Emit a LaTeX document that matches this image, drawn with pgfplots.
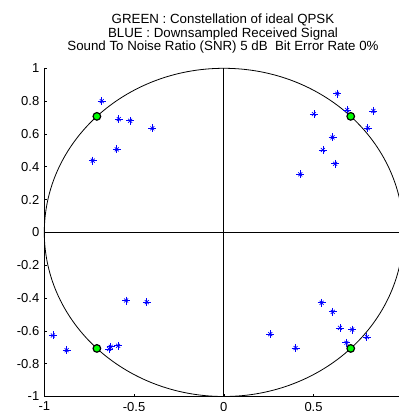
\documentclass[border=0pt]{standalone}
\usepackage{pgfplots}
\pgfplotsset{compat=1.18}
\usepackage{fontspec}
\setmainfont{Liberation Sans}

\begin{document}
\begin{tikzpicture}[x=1pt,y=1pt]
\begin{axis}[
  at={(44.3pt,-396.5pt)}, anchor=south west,
  scale only axis, width=359pt, height=328.2pt,
  xmin=-1, xmax=1, ymin=-1, ymax=1,
  axis x line*=bottom, axis y line*=left,
  axis line style={black, line width=0.8pt},
  tick align=inside, major tick length=3pt,
  tick style={black, line width=0.6pt},
  xtick={-1,-0.5,0,0.5,1}, xticklabels={-1,-0.5,0,0.5,1},
  ytick={-1,-0.8,-0.6,-0.4,-0.2,0,0.2,0.4,0.6,0.8,1},
  yticklabels={-1,-0.8,-0.6,-0.4,-0.2,0,0.2,0.4,0.6,0.8,1},
  ticklabel style={font=\fontsize{13}{15}\selectfont},
  yticklabel style={xshift=-1.5pt},
  xticklabel style={yshift=-2pt},
  clip=false,
]
\draw[black, line width=0.8pt] (axis cs:-1,0) -- (axis cs:1,0);
\draw[black, line width=0.8pt] (axis cs:0,-1) -- (axis cs:0,1);
% received (downsampled) signal
\pgfplotstableread{
x y
-0.68 0.80
-0.585 0.69
-0.522 0.68
-0.398 0.634
-0.596 0.506
-0.73 0.437
0.632 0.845
0.687 0.746
0.833 0.74
0.502 0.721
0.802 0.636
0.606 0.579
0.552 0.502
0.62 0.418
0.426 0.354
-0.544 -0.415
-0.429 -0.425
-0.952 -0.628
-0.876 -0.718
-0.639 -0.71
-0.63 -0.697
-0.589 -0.691
0.545 -0.429
0.607 -0.484
0.259 -0.62
0.4 -0.705
0.647 -0.582
0.715 -0.592
0.797 -0.638
0.683 -0.673
}\rxdata
\addplot[only marks, blue, mark=+, mark size=4pt, line width=0.75pt] table {\rxdata};
\addplot[only marks, blue, mark=x, mark size=2.8pt, line width=0.7pt] table {\rxdata};
% ideal QPSK constellation
\addplot[only marks, mark=*, mark size=3.8pt, mark options={fill={rgb,1:red,0;green,1;blue,0}, draw=black, line width=1.2pt}] table {
x y
0.7071 0.7071
-0.7071 0.7071
-0.7071 -0.7071
0.7071 -0.7071
};
\draw[black, line width=0.8pt] (axis cs:0,0) ellipse [x radius=1, y radius=1];
\end{axis}
\node[anchor=base, font=\fontsize{13.3}{15}\selectfont] at (223,-23.3) {GREEN : Constellation of ideal QPSK};
\node[anchor=base, font=\fontsize{13.3}{15}\selectfont] at (223,-37.2) {BLUE : Downsampled Received Signal};
\node[anchor=base, font=\fontsize{13.3}{15}\selectfont] at (223,-51) {Sound To Noise Ratio (SNR) 5 dB\ \ Bit Error Rate 0\%};
\pgfresetboundingbox
\useasboundingbox (0,0) rectangle (398,-411);
\end{tikzpicture}
\end{document}
